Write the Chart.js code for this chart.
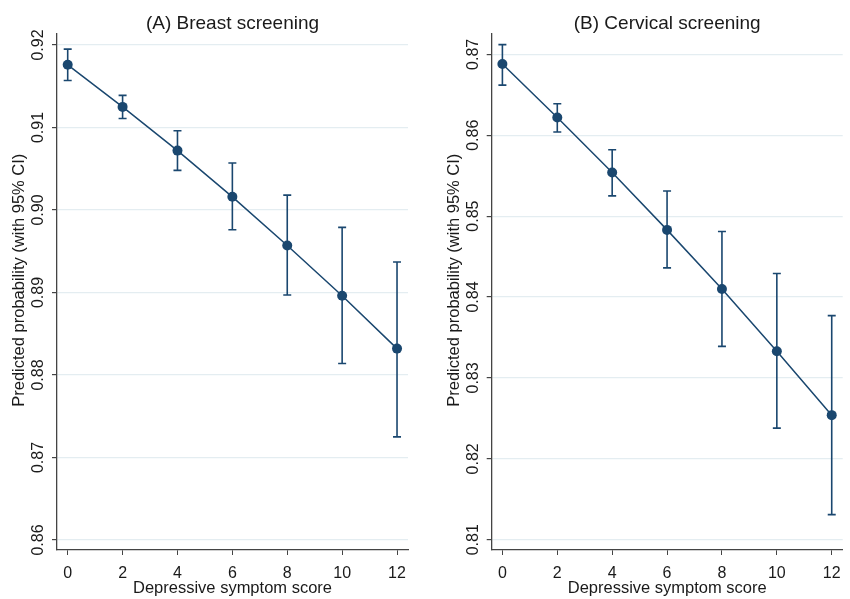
<!DOCTYPE html>
<html>
<head>
<meta charset="utf-8">
<script src="https://cdn.jsdelivr.net/npm/chart.js@4.4.1/dist/chart.umd.min.js"></script>
<style>
  body { margin: 0; background: #fff; }
  .panel { position: absolute; top: 0; width: 425px; height: 599px; }
</style>
</head>
<body>
<div class="panel" style="left:0"><canvas id="breast" width="425" height="599"></canvas></div>
<div class="panel" style="left:425px"><canvas id="cervical" width="425" height="599"></canvas></div>
<script>
// depressive symptom score (x)
const scores = [0, 2, 4, 6, 8, 10, 12];
const xTicks = [0, 2, 4, 6, 8, 10, 12];

// (A) breast screening
const breastProb = [0.9176, 0.9125, 0.9072, 0.9016, 0.8957, 0.8896, 0.8832];
const breastLow  = [0.9157, 0.9111, 0.9048, 0.8976, 0.8897, 0.8814, 0.8725];
const breastHigh = [0.9195, 0.9139, 0.9096, 0.9057, 0.9018, 0.8979, 0.8937];
const breastTicks = [0.86, 0.87, 0.88, 0.89, 0.90, 0.91, 0.92];

// (B) cervical screening
const cervicalProb = [0.8688, 0.8622, 0.8554, 0.8483, 0.8410, 0.8333, 0.8254];
const cervicalLow  = [0.8662, 0.8604, 0.8525, 0.8436, 0.8339, 0.8238, 0.8131];
const cervicalHigh = [0.8712, 0.8639, 0.8582, 0.8531, 0.8481, 0.8429, 0.8377];
const cervicalTicks = [0.81, 0.82, 0.83, 0.84, 0.85, 0.86, 0.87];

const NAVY = '#1a476f';
const AXIS = '#444';
const TEXT = '#1a1a1a';
const FONT = '"Liberation Sans", Arial, sans-serif';

// draws the 95% CI whiskers under the line and markers
const errorBars = {
  id: 'errorBars',
  beforeDatasetsDraw(chart, args, opts) {
    const { ctx, scales: { x, y } } = chart;
    ctx.save();
    ctx.strokeStyle = NAVY;
    ctx.lineWidth = 1.6;
    opts.low.forEach((lo, i) => {
      const px = x.getPixelForValue(scores[i]);
      const y1 = y.getPixelForValue(lo);
      const y2 = y.getPixelForValue(opts.high[i]);
      ctx.beginPath();
      ctx.moveTo(px, y1); ctx.lineTo(px, y2);
      ctx.moveTo(px - 4, y1); ctx.lineTo(px + 4, y1);
      ctx.moveTo(px - 4, y2); ctx.lineTo(px + 4, y2);
      ctx.stroke();
    });
    ctx.restore();
  }
};

function makeChart(id, title, probs, low, high, yTicks, yMin, yMax, padLeft, padRight) {
  return new Chart(document.getElementById(id), {
    type: 'line',
    data: {
      datasets: [{
        data: scores.map((s, i) => ({ x: s, y: probs[i] })),
        borderColor: NAVY,
        borderWidth: 1.5,
        backgroundColor: NAVY,
        pointRadius: 5,
        pointBorderWidth: 0,
        pointBackgroundColor: NAVY,
        tension: 0
      }]
    },
    options: {
      responsive: false,
      animation: false,
      layout: { padding: { left: padLeft, right: padRight, top: 0, bottom: 0 } },
      plugins: {
        legend: { display: false },
        tooltip: { enabled: false },
        title: {
          display: true,
          text: title,
          fullSize: false,
          color: TEXT,
          font: { family: FONT, size: 19, weight: 'normal' },
          padding: { top: 12, bottom: -1.5 }
        },
        errorBars: { low: low, high: high }
      },
      scales: {
        x: {
          type: 'linear',
          min: -0.39,
          max: 12.4,
          afterBuildTicks: s => { s.ticks = xTicks.map(v => ({ value: v })); },
          afterFit: s => { s.height = 49; },
          grid: { drawOnChartArea: false, drawTicks: true, tickLength: 5, tickColor: AXIS },
          border: { color: AXIS, width: 1.3 },
          ticks: { color: TEXT, font: { family: FONT, size: 16 }, padding: 9, maxRotation: 0 },
          title: {
            display: true,
            text: 'Depressive symptom score',
            color: TEXT,
            font: { family: FONT, size: 16.5 },
            padding: { top: 0, bottom: 0.5 }
          }
        },
        y: {
          min: yMin,
          max: yMax,
          afterBuildTicks: s => { s.ticks = yTicks.map(v => ({ value: v })); },
          afterFit: s => { s.width = 57; },
          grid: { color: '#e4edf1', lineWidth: 1.2, drawTicks: true, tickLength: 5, tickColor: AXIS },
          border: { color: AXIS, width: 1.3 },
          ticks: {
            color: TEXT,
            font: { family: FONT, size: 16 },
            minRotation: 90,
            maxRotation: 90,
            crossAlign: 'center',
            padding: -2,
            callback: v => v.toFixed(2)
          },
          title: {
            display: true,
            // leading spaces nudge the rotated title up a little
            text: '     Predicted probability (with 95% CI)',
            color: TEXT,
            font: { family: FONT, size: 16.5 },
            padding: { top: 10, bottom: 0 }
          }
        }
      }
    },
    plugins: [errorBars]
  });
}

makeChart('breast', '(A) Breast screening', breastProb, breastLow, breastHigh,
  breastTicks, 0.85879, 0.92142, 0, 17);
makeChart('cervical', '(B) Cervical screening', cervicalProb, cervicalLow, cervicalHigh,
  cervicalTicks, 0.80873, 0.87260, 9.7, 7.3);
</script>
</body>
</html>
